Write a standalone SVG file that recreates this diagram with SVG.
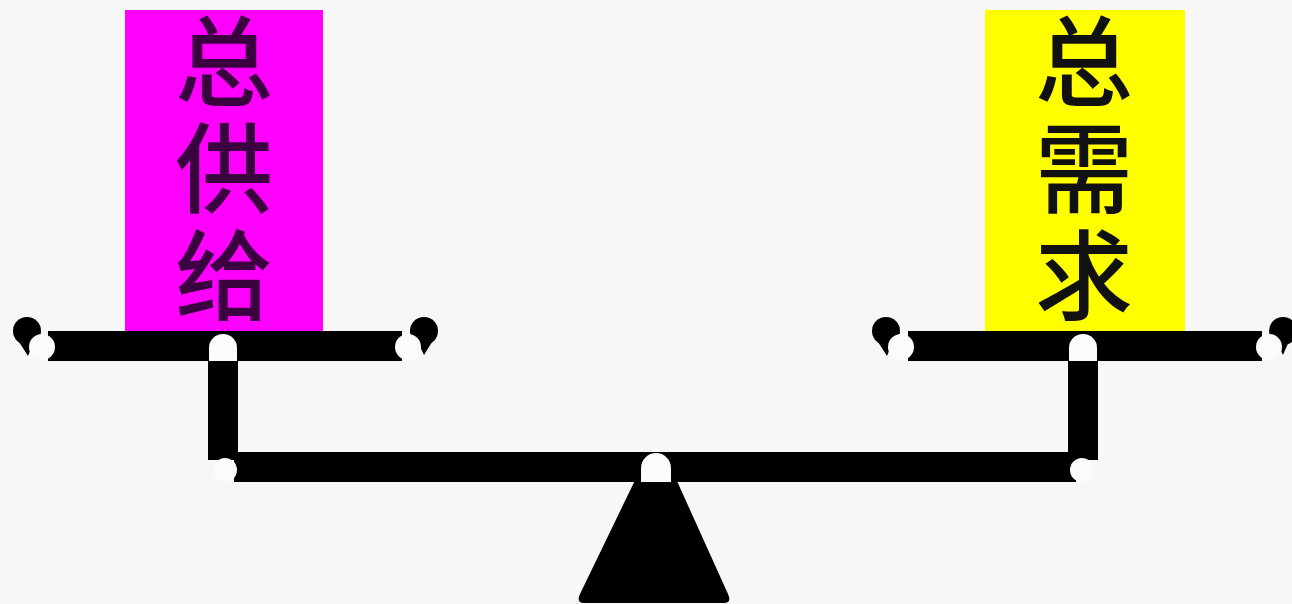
<svg xmlns="http://www.w3.org/2000/svg" width="1292" height="604" viewBox="0 0 1292 604">
<style>
.bar{fill:#000}
.hole{fill:#fbfbfb}
.lbl{font-family:"Noto Sans CJK SC","Noto Sans CJK JP",sans-serif;font-size:98px;font-weight:500;writing-mode:vertical-rl;letter-spacing:9px}
</style>
<defs>
<path id="hookL" d="M14 326 A14 14 0 0 1 40 322 L30 356 Q16 345 14 326 Z"/>
</defs>
<rect width="1292" height="604" fill="#f7f7f7"/>
<g id="supply">
<rect x="125" y="10" width="198" height="322" fill="#ff00ff"/>
<text class="lbl" x="224" y="12" fill="#3a0040">总供给</text>
</g>
<g id="demand">
<rect x="985" y="10" width="200" height="322" fill="#ffff00"/>
<text class="lbl" x="1084" y="12" fill="#111">总需求</text>
</g>
<g id="scale">
<path class="bar" d="M584 603 Q576 603 580 594 L640 470 L672 470 L728 594 Q732 603 724 603 Z"/>
<rect class="bar" x="234" y="452" width="842" height="30"/>
<path class="hole" d="M641 482 L641 468 A14 14 0 0 1 671 468 L671 482 Z"/>
<rect class="bar" x="208" y="347" width="30" height="113"/>
<rect class="bar" x="1068" y="347" width="30" height="113"/>
<circle class="hole" cx="225" cy="470" r="12"/>
<circle class="hole" cx="1082" cy="470" r="12"/>
<rect class="bar" x="48" y="331" width="354" height="30"/>
<rect class="bar" x="908" y="331" width="354" height="30"/>
<path class="hole" d="M209 361 L209 348 A14 14 0 0 1 237 348 L237 361 Z"/>
<path class="hole" d="M1069 361 L1069 348 A14 14 0 0 1 1097 348 L1097 361 Z"/>
<circle class="bar" cx="27" cy="331" r="14"/>
<path class="bar" d="M14 334 L28 356 L36 336 Z"/>
<circle class="hole" cx="42" cy="347" r="13"/>
<circle class="bar" cx="424" cy="331" r="14"/>
<path class="bar" d="M437 334 L424 355 L415 336 Z"/>
<circle class="hole" cx="408" cy="347" r="13"/>
<circle class="bar" cx="886" cy="331" r="14"/>
<path class="bar" d="M873 334 L887 356 L895 336 Z"/>
<circle class="hole" cx="901" cy="347" r="13"/>
<circle class="bar" cx="1283" cy="331" r="14"/>
<path class="bar" d="M1292 334 L1283 355 L1274 336 Z"/>
<circle class="hole" cx="1269" cy="347" r="13"/>
</g>
<g id="connectors"></g>
</svg>
